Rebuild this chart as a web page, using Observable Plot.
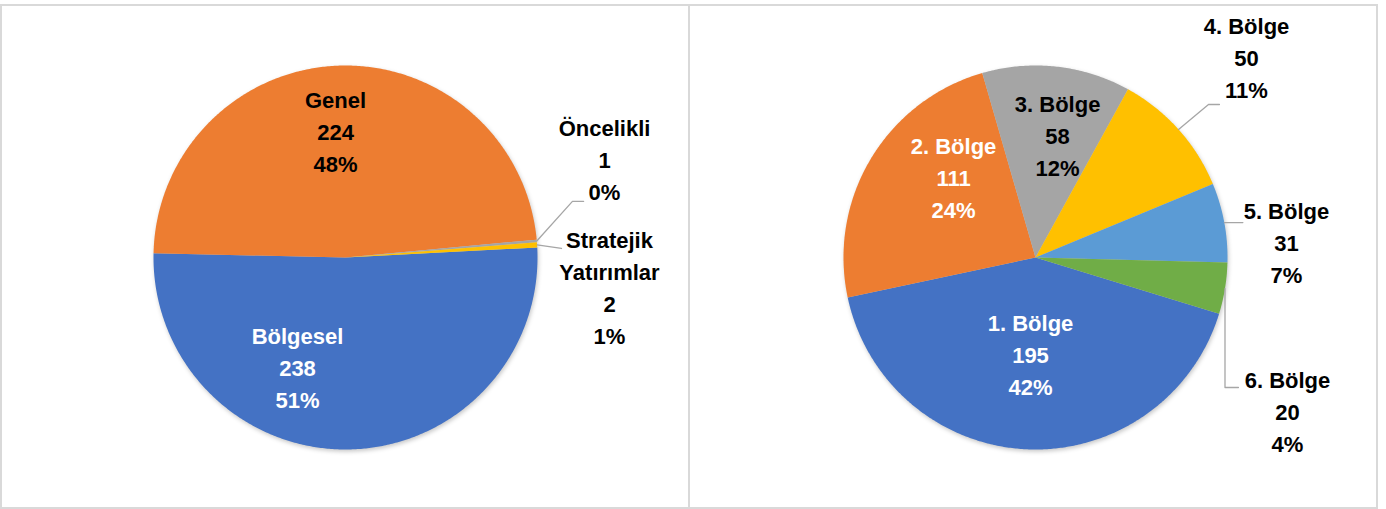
<!DOCTYPE html>
<html>
<head>
<meta charset="utf-8">
<script src="https://cdn.jsdelivr.net/npm/d3@7"></script>
<script src="https://cdn.jsdelivr.net/npm/@observablehq/plot@0.6"></script>
<style>
  html, body { margin: 0; padding: 0; background: #fff; }
  #wrap { position: relative; width: 1386px; height: 509px; overflow: hidden; }
  .frame { position: absolute; left: 0; top: 4px; width: 1378px; height: 505px; border: 2px solid #d9d9d9; box-sizing: border-box; }
  .divider { position: absolute; left: 688px; top: 4px; width: 2px; height: 505px; background: #d9d9d9; }
  .panel { position: absolute; top: 5px; }
  .panel svg { display: block; }
</style>
</head>
<body>
<div id="wrap">
  <div class="frame"></div>
  <div class="divider"></div>
  <div class="panel" id="left" style="left:1px"></div>
  <div class="panel" id="right" style="left:690px"></div>
</div>
<script>
// ---------- DATA ----------
const leftNames    = ["Bölgesel", "Genel", "Öncelikli", "Stratejik Yatırımlar"];
const leftValues   = [238, 224, 1, 2];
const leftPercents = ["51%", "48%", "0%", "1%"];

const rightNames    = ["1. Bölge", "2. Bölge", "3. Bölge", "4. Bölge", "5. Bölge", "6. Bölge"];
const rightValues   = [195, 111, 58, 50, 31, 20];
const rightPercents = ["42%", "24%", "12%", "11%", "7%", "4%"];

// ---------- STYLE / LAYOUT ----------
const FONT = "'Liberation Sans', Arial, sans-serif";
const W = 688, H = 503, R = 192;

const leftLayout = {
  cx: 344, cy: 252, start: 87,
  colors: ["#4472C4", "#ED7D31", "#A5A5A5", "#FFC000"],
  labelColor: ["#ffffff", "#000000", "#000000", "#000000"],
  // label block centres, in radius units relative to the pie centre
  labelPos: [[-0.25, -0.578], [-0.052, 0.651], [1.349, 0.505], [1.375, -0.164]],
  labelText: (n) => n === "Stratejik Yatırımlar" ? "Stratejik\nYatırımlar" : n,
  // leader elbows (radius units), null = no leader
  leaders: [null, null, [[1.182, 0.292], [1.24, 0.292]], [[1.125, 0.047]]]
};
const rightLayout = {
  cx: 345, cy: 252, start: 107,
  colors: ["#4472C4", "#ED7D31", "#A5A5A5", "#FFC000", "#5B9BD5", "#70AD47"],
  labelColor: ["#ffffff", "#ffffff", "#000000", "#000000", "#000000", "#000000"],
  labelPos: [[-0.026, -0.51], [-0.427, 0.411], [0.115, 0.63], [1.099, 1.036], [1.307, 0.073], [1.3125, -0.807]],
  labelText: (n) => n,
  leaders: [null, null, null, [[0.901, 0.797], [0.958, 0.797]], [[1.08, 0.182]], [[0.987, -0.677], [1.057, -0.677]]]
};

function pieChart(names, values, percents, L) {
  const total = d3.sum(values);
  const toRad = Math.PI / 180;
  const slices = [];
  let a = L.start;
  values.forEach((v, i) => {
    const span = v / total * 360;
    slices.push({name: names[i], a0: a, a1: a + span, mid: a + span / 2, i});
    a += span;
  });
  // polygon points per slice (angle measured clockwise from 12 o'clock)
  const pts = [];
  for (const s of slices) {
    pts.push({name: s.name, x: 0, y: 0});
    const n = Math.max(2, Math.ceil((s.a1 - s.a0) / 0.5));
    for (let k = 0; k <= n; k++) {
      const t = (s.a0 + (s.a1 - s.a0) * k / n) * toRad;
      pts.push({name: s.name, x: Math.sin(t), y: Math.cos(t)});
    }
    pts.push({name: s.name, x: 0, y: 0});
  }
  const labels = slices.map(s => ({
    x: L.labelPos[s.i][0], y: L.labelPos[s.i][1],
    text: L.labelText(s.name) + "\n" + values[s.i] + "\n" + percents[s.i],
    color: L.labelColor[s.i]
  }));
  const leaderPts = [];
  slices.forEach(s => {
    const el = L.leaders[s.i];
    if (!el) return;
    const t = s.mid * toRad;
    leaderPts.push({name: s.name, x: Math.sin(t), y: Math.cos(t)});
    el.forEach(p => leaderPts.push({name: s.name, x: p[0], y: p[1]}));
  });

  const svg = Plot.plot({
    width: W, height: H,
    margin: 0,
    style: {fontFamily: FONT, background: "transparent"},
    x: {domain: [-L.cx / R, (W - L.cx) / R], range: [0, W], axis: null},
    y: {domain: [-(H - L.cy) / R, L.cy / R], range: [H, 0], axis: null},
    color: {domain: names, range: L.colors},
    marks: [
      Plot.line(pts, {x: "x", y: "y", z: "name", fill: "name", stroke: "none", curve: "linear"}),
      Plot.line(leaderPts, {x: "x", y: "y", z: "name", stroke: "#A6A6A6", strokeWidth: 1.3}),
      Plot.text(labels, {x: "x", y: "y", text: "text", fill: d => d.color, fontSize: 22, fontWeight: "bold", lineHeight: 1.45, fontFamily: FONT, textAnchor: "middle", dy: -3})
    ]
  });
  d3.select(svg).select("g[aria-label=line]").style("filter", "drop-shadow(1px 2px 2px rgba(0,0,0,0.22))");
  return svg;
}

document.getElementById("left").appendChild(pieChart(leftNames, leftValues, leftPercents, leftLayout));
document.getElementById("right").appendChild(pieChart(rightNames, rightValues, rightPercents, rightLayout));
</script>
</body>
</html>
